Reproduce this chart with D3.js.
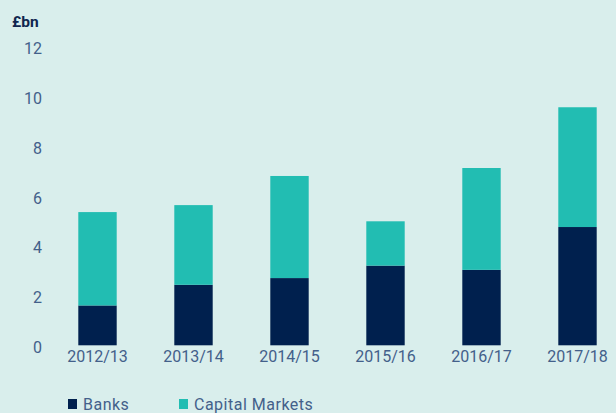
<!DOCTYPE html>
<html>
<head>
<meta charset="utf-8">
<script src="https://cdn.jsdelivr.net/npm/d3@7"></script>
<style>
  html, body { margin: 0; padding: 0; background: #d9eeec; }
  svg { display: block; }
  text { font-family: Roboto, "Noto Sans", sans-serif; }
</style>
</head>
<body>
<div id="chart"></div>
<script>
const categories = ["2012/13", "2013/14", "2014/15", "2015/16", "2016/17", "2017/18"];
const banks = [1.6, 2.43, 2.7, 3.2, 3.03, 4.75];
const capitalMarkets = [3.75, 3.2, 4.1, 1.78, 4.09, 4.81];
const seriesNames = ["Banks", "Capital Markets"];
const yTicks = [0, 2, 4, 6, 8, 10, 12];
const unitLabel = "£bn";

const W = 616, H = 413;
const colors = { "Banks": "#00204e", "Capital Markets": "#22bdb2" };
const textColor = "#43608a";

const svg = d3.select("#chart").append("svg").attr("width", W).attr("height", H);
svg.append("rect").attr("width", W).attr("height", H).attr("fill", "#d9eeec");

const x = d3.scaleBand().domain(categories).range([49.5, 625.5]).paddingInner(0.6).paddingOuter(0.3);
const y = d3.scaleLinear().domain([0, 12]).range([345.3, 46.5]);

const rows = categories.map((c, i) => ({ cat: c, "Banks": banks[i], "Capital Markets": capitalMarkets[i] }));
const stacked = d3.stack().keys(seriesNames)(rows);

svg.append("g").selectAll("g").data(stacked).join("g")
  .attr("fill", d => colors[d.key])
  .selectAll("rect").data(d => d).join("rect")
  .attr("x", d => x(d.data.cat))
  .attr("width", x.bandwidth())
  .attr("y", d => y(d[1]))
  .attr("height", d => y(d[0]) - y(d[1]));

// Y axis
const yAxis = d3.axisLeft(y).tickValues(yTicks).tickSize(0).tickPadding(0);
const yg = svg.append("g").attr("transform", "translate(42,2)").call(yAxis);
yg.select(".domain").remove();
yg.selectAll("text").attr("fill", textColor).style("font-size", "16px").style("font-family", "Roboto, sans-serif");

// X axis
const xAxis = d3.axisBottom(x).tickSize(0).tickPadding(0);
const xg = svg.append("g").attr("transform", "translate(0,351)").call(xAxis);
xg.select(".domain").remove();
xg.selectAll("text").attr("fill", textColor).style("font-size", "16px").style("font-family", "Roboto, sans-serif");

// Unit label
svg.append("text").attr("x", 12).attr("y", 27).text(unitLabel)
  .attr("fill", "#10264f").style("font-size", "15.5px").style("font-weight", "bold");

// Legend
const legendX = [68, 179];
const lg = svg.append("g").selectAll("g").data(seriesNames).join("g")
  .attr("transform", (d, i) => `translate(${legendX[i]},399)`);
lg.append("rect").attr("width", 9).attr("height", 10).attr("fill", d => colors[d]);
lg.append("text").attr("x", 15).attr("y", 10.5).text(d => d)
  .attr("fill", textColor).style("font-size", "16px").style("letter-spacing", "0.5px");
</script>
</body>
</html>
